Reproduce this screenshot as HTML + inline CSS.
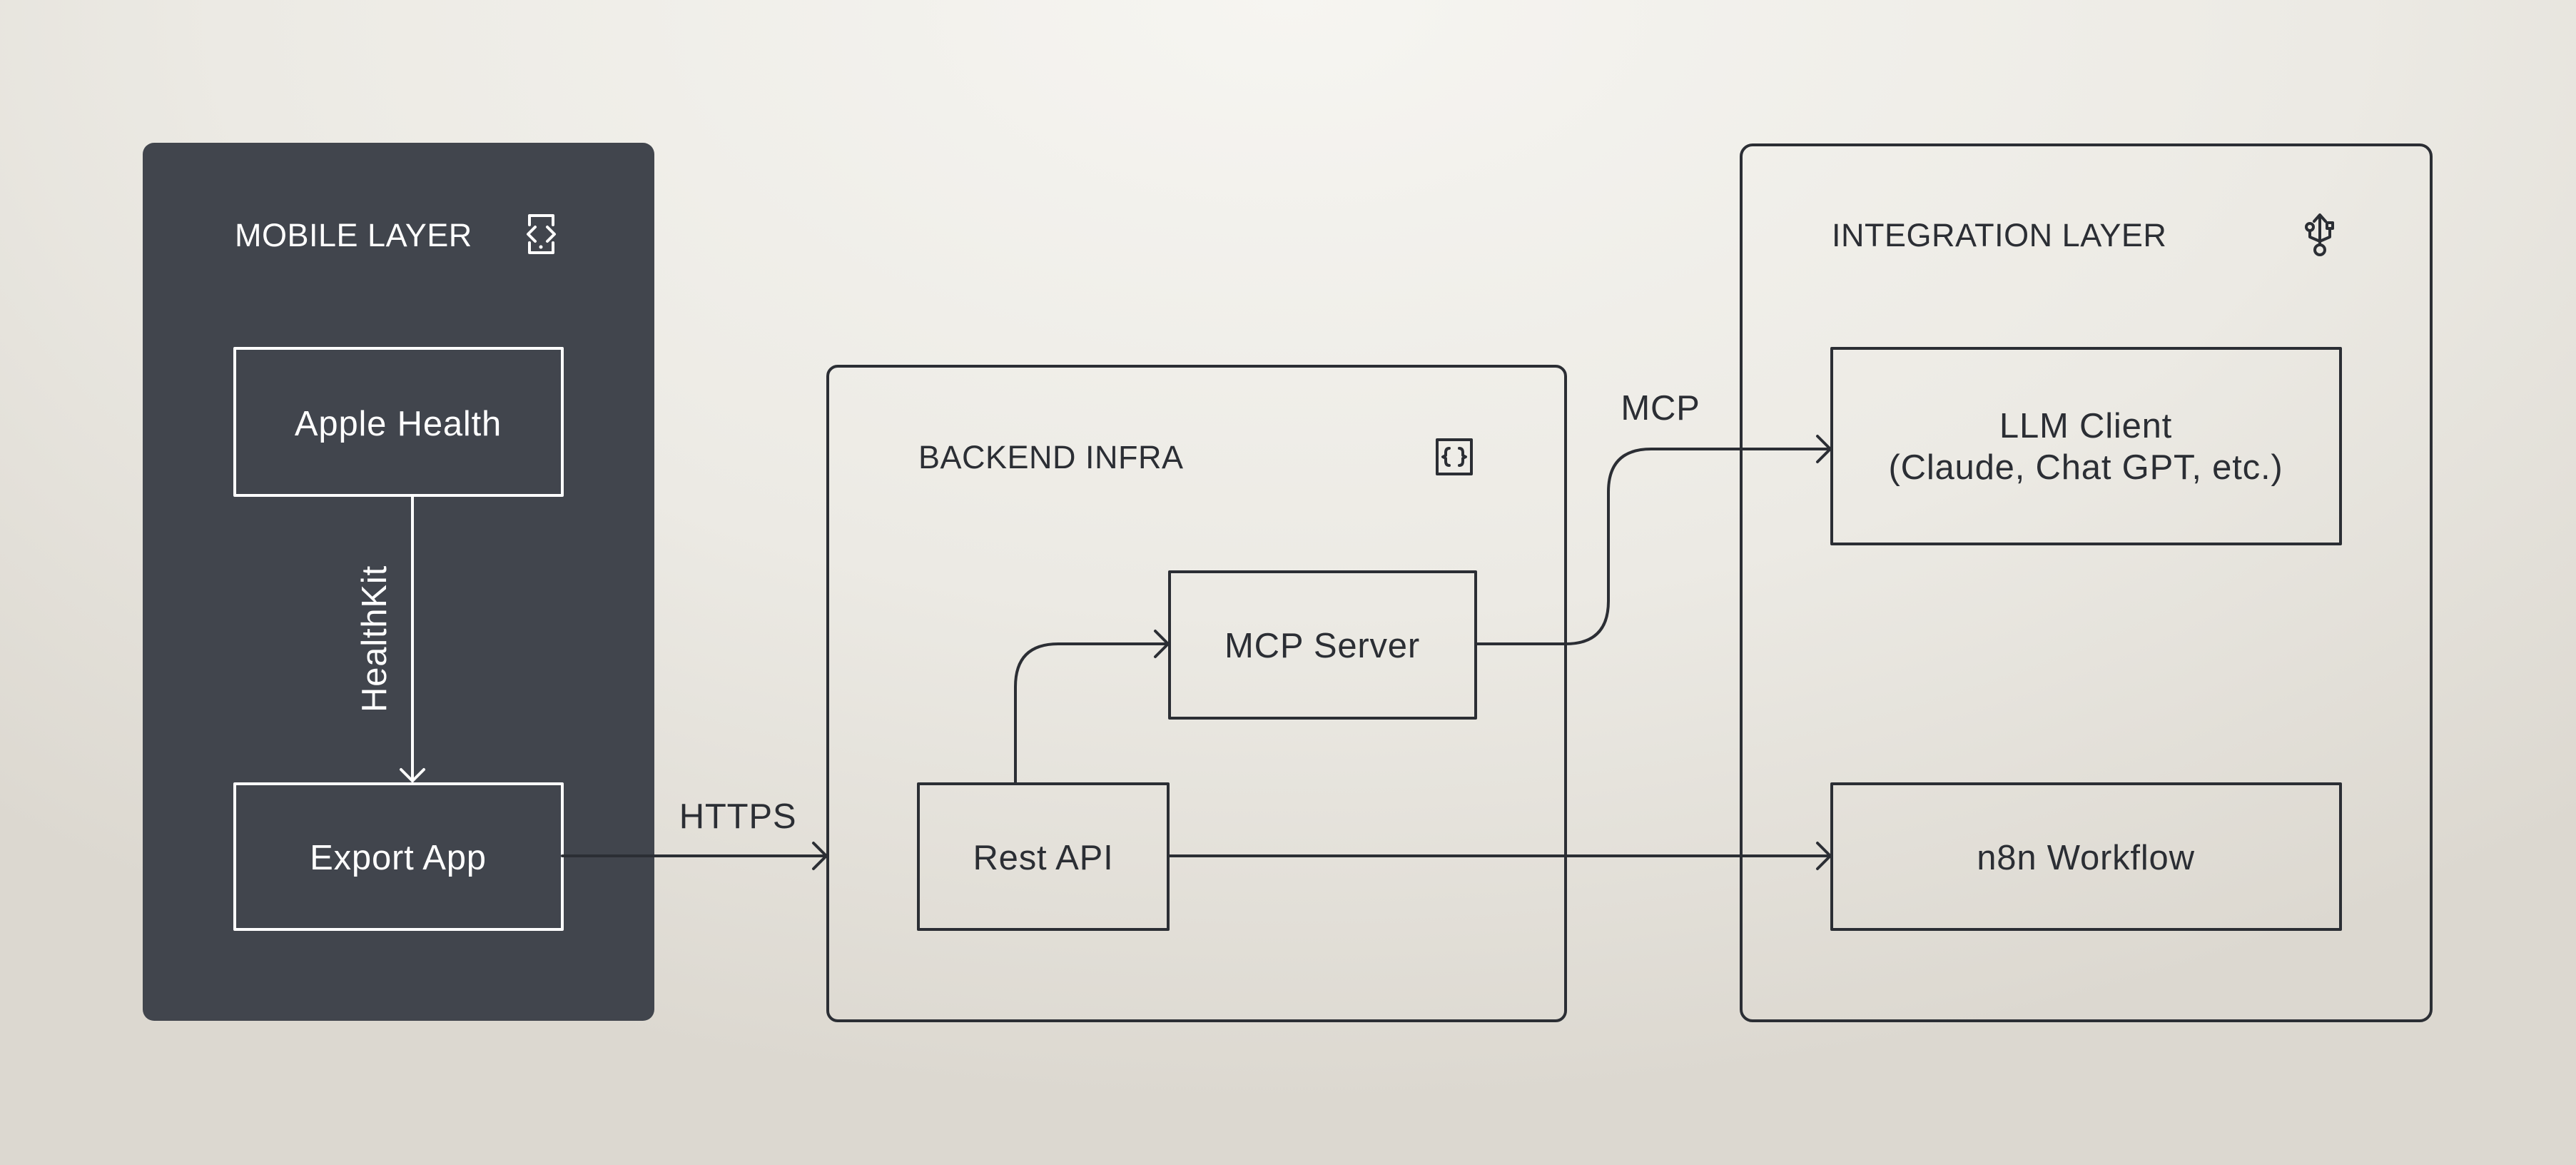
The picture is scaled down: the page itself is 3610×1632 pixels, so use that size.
<!DOCTYPE html>
<html><head><meta charset="utf-8"><style>
html,body{margin:0;padding:0;width:3610px;height:1632px;overflow:hidden}
body{background:radial-gradient(ellipse 75% 95% at 50% 0%,#f6f5f1 0%,#eceae4 55%,#dcd8d0 100%)}
svg{position:absolute;left:0;top:0}
text{font-family:"Liberation Sans",sans-serif}
</style></head><body>
<svg width="3610" height="1632" viewBox="0 0 3610 1632">
<g fill="none" stroke-linecap="round" stroke-linejoin="round">
<rect x="200" y="200" width="717" height="1230" rx="16" fill="#41454d"/>
<rect x="329" y="488" width="459" height="206" stroke="#fff" stroke-width="4" stroke-linecap="butt"/>
<rect x="329" y="1098" width="459" height="204" stroke="#fff" stroke-width="4" stroke-linecap="butt"/>
<line x1="578" y1="694" x2="578" y2="1094" stroke="#fff" stroke-width="4"/>
<polyline points="562,1078 578,1094 594,1078" stroke="#fff" stroke-width="4"/>
<g stroke="#fff" stroke-width="4">
<path d="M742 315 V302 H775 V315"/>
<path d="M742 340 V354 H775 V340"/>
<polyline points="750,318 740,328 750,338"/>
<polyline points="767,318 777,328 767,338"/>
</g>
<circle cx="758" cy="346" r="2.5" fill="#fff"/>

<rect x="1160" y="513" width="1034" height="917" rx="14" stroke="#2b2e34" stroke-width="4"/>
<rect x="1639" y="801" width="429" height="205" stroke="#2b2e34" stroke-width="4" stroke-linecap="butt"/>
<rect x="1287" y="1098" width="350" height="204" stroke="#2b2e34" stroke-width="4" stroke-linecap="butt"/>
<rect x="2014" y="616" width="48" height="48" stroke="#2b2e34" stroke-width="4" stroke-linecap="butt"/>
<path d="M2031 628 q-5 0 -5 6 v4 l-4 2 l4 2 v4 q0 6 5 6" stroke="#2b2e34" stroke-width="4"/>
<path d="M2045 628 q5 0 5 6 v4 l4 2 l-4 2 v4 q0 6 -5 6" stroke="#2b2e34" stroke-width="4"/>

<rect x="2440" y="203" width="967" height="1227" rx="16" stroke="#2b2e34" stroke-width="4"/>
<rect x="2567" y="488" width="713" height="274" stroke="#2b2e34" stroke-width="4" stroke-linecap="butt"/>
<rect x="2567" y="1098" width="713" height="204" stroke="#2b2e34" stroke-width="4" stroke-linecap="butt"/>
<g stroke="#2b2e34" stroke-width="4">
<line x1="3251" y1="302" x2="3251" y2="343"/>
<polyline points="3243,310 3251,301 3259,310"/>
<circle cx="3251" cy="350" r="7"/>
<circle cx="3237" cy="318" r="5"/>
<path d="M3237 323 V332 L3251 338 L3265 332 V322"/>
<rect x="3261" y="312" width="8" height="8"/>
</g>

<g stroke="#2b2e34" stroke-width="4">
<line x1="788" y1="1199" x2="1158" y2="1199"/>
<polyline points="1140,1181 1158,1199 1140,1217"/>
<path d="M1423 1098 V962 q0 -60 60 -60 H1637"/>
<polyline points="1619,884 1637,902 1619,920"/>
<path d="M2068 902 H2194 q60 0 60 -60 V689 q0 -60 60 -60 H2565"/>
<polyline points="2547,611 2565,629 2547,647"/>
<line x1="1637" y1="1199" x2="2565" y2="1199"/>
<polyline points="2547,1181 2565,1199 2547,1217"/>
</g>
</g>

<g font-size="49" fill="#fff">
<text x="329" y="345" font-size="45" letter-spacing="0.5">MOBILE LAYER</text>
<text x="558" y="610" text-anchor="middle" letter-spacing="0.8">Apple Health</text>
<text x="558" y="1218" text-anchor="middle" letter-spacing="0.8">Export App</text>
<text transform="translate(541,895) rotate(-90)" text-anchor="middle" letter-spacing="0.8">HealthKit</text>
</g>
<g font-size="49" fill="#2b2e34">
<text x="1287" y="656" font-size="45" letter-spacing="0.5">BACKEND INFRA</text>
<text x="2567" y="345" font-size="45" letter-spacing="0.5">INTEGRATION LAYER</text>
<text x="1853" y="921" text-anchor="middle" letter-spacing="0.8">MCP Server</text>
<text x="1462" y="1218" text-anchor="middle" letter-spacing="0.8">Rest API</text>
<text x="2923" y="613" text-anchor="middle" letter-spacing="0.8">LLM Client</text>
<text x="2923" y="671" text-anchor="middle" letter-spacing="0.8">(Claude, Chat GPT, etc.)</text>
<text x="2923" y="1218" text-anchor="middle" letter-spacing="0.8">n8n Workflow</text>
<text x="1034" y="1160" text-anchor="middle" letter-spacing="0.8">HTTPS</text>
<text x="2327" y="588" text-anchor="middle" letter-spacing="0.8">MCP</text>
</g>
</svg>
</body></html>
